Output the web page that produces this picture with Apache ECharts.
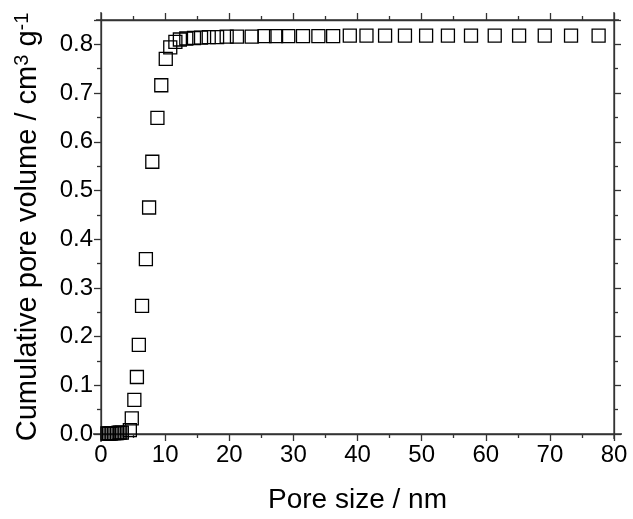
<!DOCTYPE html>
<html>
<head>
<meta charset="utf-8">
<script src="https://cdn.jsdelivr.net/npm/echarts@6/dist/echarts.min.js"></script>
<style>
html,body{margin:0;padding:0;background:#fff;}
#chart{width:633px;height:519px;}
</style>
</head>
<body>
<div id="chart"></div>
<script>
// Pore size (nm)
const poreSize = [1.0,1.25,1.5,1.75,2.0,2.25,2.5,2.75,3.0,3.25,
  4.5,4.8,5.2,5.6,5.9,6.4,7.0,7.5,8.0,8.8,9.4,10.1,10.8,11.6,
  12.3,13.3,14.5,15.6,16.8,18.1,19.6,21.2,23.5,25.5,27.3,29.2,31.5,33.9,36.2,
  38.8,41.4,44.3,47.4,50.7,54.1,57.7,61.4,65.2,69.2,73.3,77.6];
// Cumulative pore volume (cm3 g-1)
const poreVolume = [0.001,0.001,0.001,0.002,0.002,0.002,0.002,0.003,0.003,0.003,
  0.008,0.032,0.070,0.117,0.183,0.263,0.359,0.465,0.559,0.649,0.716,0.770,0.794,0.805,
  0.810,0.812,0.813,0.814,0.815,0.815,0.816,0.816,0.816,0.817,0.817,0.817,0.817,0.817,0.817,
  0.818,0.818,0.818,0.818,0.818,0.818,0.818,0.818,0.818,0.818,0.818,0.818];
const xTicks = {min:0, max:80, interval:10};
const yTicks = {min:0, max:0.85, interval:0.1, lastLabel:0.8};

const font = '"Liberation Sans", Arial, sans-serif';
const axisColor = '#333';
const chart = echarts.init(document.getElementById('chart'));

const common = {
  axisLine:{show:true, onZero:false, lineStyle:{color:axisColor, width:1.3}},
  axisTick:{show:true, inside:false, length:7, lineStyle:{color:axisColor, width:1.3}},
  minorTick:{show:true, splitNumber:2, length:4, lineStyle:{color:axisColor, width:1.3}},
  splitLine:{show:false}
};

chart.setOption({
  animation:false,
  backgroundColor:'#fff',
  grid:{left:101, right:19, top:20, bottom:85, containLabel:false},
  xAxis:[
    Object.assign({type:'value', position:'bottom', min:xTicks.min, max:xTicks.max, interval:xTicks.interval,
      name:'Pore size / nm', nameLocation:'middle', nameGap:52,
      nameTextStyle:{fontFamily:font, fontSize:28, color:'#000'},
      axisLabel:{fontFamily:font, fontSize:24, color:'#000', margin:9}}, common),
    Object.assign({type:'value', position:'top', min:xTicks.min, max:xTicks.max, interval:xTicks.interval,
      axisLabel:{show:false}}, common)
  ],
  yAxis:[
    Object.assign({type:'value', position:'left', min:yTicks.min, max:yTicks.max, interval:yTicks.interval,
      name:'Cumulative pore volume / cm{sup|3} g{sup|-1}', nameLocation:'middle', nameGap:57,
      nameTextStyle:{fontFamily:font, fontSize:29, color:'#000', verticalAlign:'bottom',
        rich:{sup:{fontFamily:font, fontSize:20, color:'#000', verticalAlign:'bottom', padding:[0,0,12,0]}}},
      axisLabel:{fontFamily:font, fontSize:24, color:'#000', margin:8,
        formatter:v=> v > yTicks.lastLabel + 1e-6 ? '' : v.toFixed(1)}}, common),
    Object.assign({type:'value', position:'right', min:yTicks.min, max:yTicks.max, interval:yTicks.interval,
      axisLabel:{show:false}}, common)
  ],
  series:[{
    type:'scatter',
    data:poreSize.map((x,i)=>[x, poreVolume[i]]),
    symbol:'rect',
    symbolSize:13,
    clip:false,
    itemStyle:{color:'rgba(0,0,0,0)', borderColor:'#000', borderWidth:1.3, opacity:1}
  }]
});

// Frame overshoot (Origin-style), derived from the axis scales
const p0 = chart.convertToPixel({gridIndex:0}, [xTicks.min, yTicks.min]);
const p1 = chart.convertToPixel({gridIndex:0}, [xTicks.max, yTicks.max]);
const ls = {stroke:axisColor, lineWidth:1.3};
chart.setOption({graphic:[
  {type:'line', shape:{x1:p0[0]-8, y1:p0[1], x2:p1[0]+8, y2:p0[1]}, style:ls, silent:true},
  {type:'line', shape:{x1:p0[0]-5, y1:p1[1], x2:p1[0]+5, y2:p1[1]}, style:ls, silent:true},
  {type:'line', shape:{x1:p0[0], y1:p1[1]-8, x2:p0[0], y2:p0[1]+8}, style:ls, silent:true},
  {type:'line', shape:{x1:p1[0], y1:p1[1]-8, x2:p1[0], y2:p0[1]+5}, style:ls, silent:true}
]});
</script>
</body>
</html>
